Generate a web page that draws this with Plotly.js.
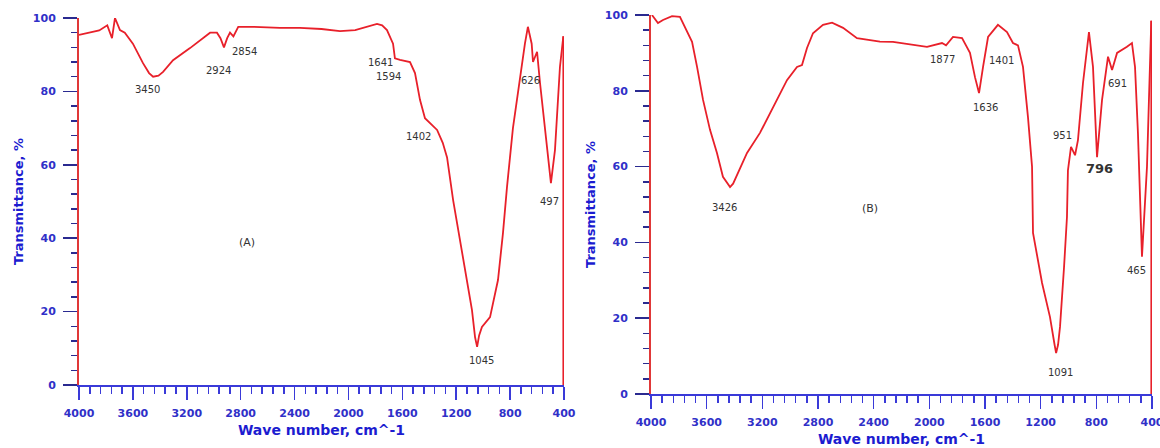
<!DOCTYPE html>
<html>
<head>
<meta charset="utf-8">
<script src="https://cdn.plot.ly/plotly-3.0.1.min.js"></script>
<style>html,body{margin:0;padding:0;background:#fff;}#chart{width:1160px;height:448px;}</style>
</head>
<body>
<div id="chart"></div>
<script>
// ---- Spectrum A ----
const waveA = [4000,3918,3850,3790,3755,3733,3696,3660,3600,3525,3480,3450,3410,3376,3302,3176,3100,3027,2976,2950,2924,2900,2879,2854,2818,2700,2508,2360,2200,2063,1950,1892,1788,1750,1714,1669,1655,1617,1543,1506,1469,1432,1402,1342,1300,1268,1223,1150,1083,1060,1045,1030,1009,949,890,853,823,779,727,690,668,640,630,600,578,527,497,467,430,405];
const transA = [95.4,96,96.6,98,94.5,100,96.7,96,93,87.7,85,84,84.3,85.3,88.5,91.8,94,96,96,94.5,92,94.5,96,95,97.6,97.6,97.3,97.3,97,96.4,96.7,97.3,98.4,98,96.7,93,89,88.6,88,85,77.7,72.7,71.7,69.5,66,62,50.4,35,20.4,13,10.4,13.5,15.8,18.5,28.6,41.4,54,70,84,93,97.6,93,88,90.8,82.3,64,55,64,86.7,95];
const peaksA = ["3450","2924","2854","1641","1594","1402","626","497","1045"];
// ---- Spectrum B ----
const waveB = [3993,3950,3914,3849,3792,3741,3705,3669,3626,3576,3526,3483,3450,3432,3410,3375,3310,3217,3123,3023,2951,2915,2879,2836,2764,2699,2620,2520,2355,2261,2017,1909,1880,1830,1765,1708,1672,1643,1614,1578,1507,1442,1399,1363,1327,1291,1262,1255,1190,1133,1100,1089,1075,1061,1032,1011,1004,982,953,932,896,853,824,795,759,723,716,687,651,580,544,522,501,472,436,422,405];
const transB = [100,97.9,98.7,99.7,99.5,95.5,92.9,86.3,77.6,69.7,63.6,57.3,55.5,54.6,55.5,58.3,63.6,68.9,75.7,82.8,86.3,86.8,91.3,95.2,97.4,98,96.6,93.9,93,92.9,91.6,92.6,92,94.2,93.9,90,83.6,79.4,86.3,94.2,97.4,95.5,92.6,92,86.3,73,60,42.5,29.3,20.3,13,10.8,13,17.7,33.5,46.7,59,65.2,63,67,82,95.5,86.3,62.5,77.6,87.3,89,85.5,90,91.6,92.6,86.3,68.9,36.2,60,77.6,98.5];
const peaksB = ["3426","1877","1636","1401","951","796","691","1091","465"];
const xTitle = "Wave number, cm^-1";
const yTitle = "Transmittance, %";

// label placement (data coords)
const posA = [[3488,80.6],[2968,85.8],[2768,90.8],[1765,88],[1706,84],[1483,67.8],[652,83],[511,50],[1009,6.8]];
const posB = [[3475,49.3],[1909,88.3],[1600,75.7],[1478,87.9],[1040,68.3],[774,59.4],[651,82],[1061,5.8],[508,32.7]];

const red = '#e8202a';
const blue = '#3030c8';
const W = 1160, H = 448;

const traces = [
  {x: waveA, y: transA, type:'scatter', mode:'lines', line:{color:red, width:1.8}, xaxis:'x', yaxis:'y', hoverinfo:'skip'},
  {x: waveB, y: transB, type:'scatter', mode:'lines', line:{color:red, width:1.8}, xaxis:'x2', yaxis:'y2', hoverinfo:'skip'}
];

function xax(domain, anchor){
  return {
    domain: domain, anchor: anchor, range:[4000,400], autorange:false,
    showline:true, linecolor:'#3a3ad8', linewidth:2, mirror:false,
    ticks:'outside', tickcolor:'#3a3ad8', ticklen:13, tickwidth:1.5,
    dtick:400, tick0:400, showgrid:false, zeroline:false,
    minor:{dtick:80, tick0:400, ticks:'outside', ticklen:7, tickcolor:'#3a3ad8', tickwidth:1.5, showgrid:false},
    tickfont:{family:'DejaVu Sans', size:11, color:blue, weight:'bold'},
    ticklabelstandoff: 4, ticklabeloverflow:'allow',
    title:{text:xTitle, font:{family:'DejaVu Sans', size:14, color:'#1c1cd0', weight:'bold'}, standoff:6},
    automargin:false
  };
}
function yax(domain, anchor){
  return {
    domain: domain, anchor: anchor, range:[0,100], autorange:false,
    showline:true, linecolor:'#e03838', linewidth:2,
    ticks:'outside', tickcolor:'#2a2a90', ticklen:14, tickwidth:1.5,
    dtick:20, tick0:0, showgrid:false, zeroline:false,
    minor:{dtick:4, tick0:0, ticks:'outside', ticklen:6, tickcolor:'#2a2a90', tickwidth:1.5, showgrid:false},
    tickfont:{family:'DejaVu Sans', size:11, color:blue, weight:'bold'},
    ticklabelstandoff: 5,
    title:{text:yTitle, font:{family:'DejaVu Sans', size:13, color:'#1c1cd0', weight:'bold'}, standoff:6},
    automargin:false
  };
}

const annotations = [];
peaksA.forEach((t,i)=>annotations.push({x:posA[i][0], y:posA[i][1], xref:'x', yref:'y', text:t, showarrow:false, font:{family:'DejaVu Sans', size:10, color:'#333'}}));
peaksB.forEach((t,i)=>annotations.push({x:posB[i][0], y:posB[i][1], xref:'x2', yref:'y2', text:t, showarrow:false,
  font:{family:'DejaVu Sans', size: t==='796'?13:10, color:'#333', weight: t==='796'?'bold':'normal'}}));
annotations.push({x:2753, y:38.7, xref:'x', yref:'y', text:'(A)', showarrow:false, font:{family:'DejaVu Sans', size:11, color:'#333'}});
annotations.push({x:2426, y:49, xref:'x2', yref:'y2', text:'(B)', showarrow:false, font:{family:'DejaVu Sans', size:11, color:'#333'}});

const shapes = [
  {type:'line', xref:'x', yref:'y', x0:waveA[waveA.length-1], x1:waveA[waveA.length-1], y0:0, y1:transA[transA.length-1], line:{color:red, width:1.8}},
  {type:'line', xref:'x2', yref:'y2', x0:waveB[waveB.length-1], x1:waveB[waveB.length-1], y0:0, y1:transB[transB.length-1], line:{color:red, width:1.8}}
];

const layout = {
  width:W, height:H, margin:{l:0,r:0,t:0,b:0},
  paper_bgcolor:'#fff', plot_bgcolor:'#fff', showlegend:false,
  xaxis: xax([79/W, 564/W], 'y'),
  yaxis: yax([1-385/H, 1-18/H], 'x'),
  xaxis2: xax([651/W, 1152/W], 'y2'),
  yaxis2: yax([1-394/H, 1-15/H], 'x2'),
  annotations: annotations, shapes: shapes
};
Plotly.newPlot('chart', traces, layout, {staticPlot:true, displayModeBar:false});
</script>
</body>
</html>
